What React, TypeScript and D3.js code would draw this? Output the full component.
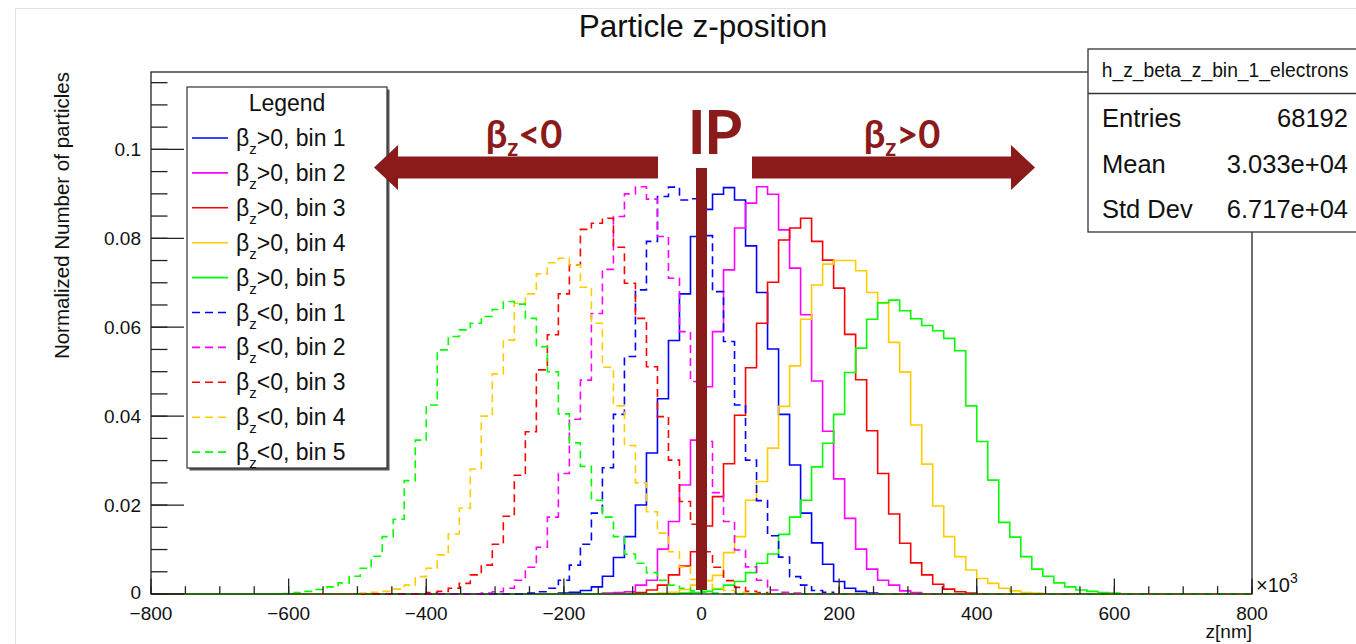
import React from 'react';
import * as d3 from 'd3';

// histogram binning (z in units of 10^3 nm)
const binLow = -800;
const binWidth = 16;
const nBins = 100;

// each series: lower edge of first non-empty bin, then bin contents
const posBin1Start = -208;
const posBin1 = [0.0002, 0.0004, 0.0008, 0.0016, 0.0040, 0.0082, 0.0129, 0.0200, 0.0317, 0.0439, 0.0570, 0.0675, 0.0804, 0.0865, 0.0899, 0.0914, 0.0886, 0.0783, 0.0678, 0.0551, 0.0404, 0.0290, 0.0182, 0.0115, 0.0067, 0.0028, 0.0013, 0.0006, 0.0002];
const posBin2Start = -144;
const posBin2 = [0.0002, 0.0003, 0.0005, 0.0020, 0.0031, 0.0101, 0.0163, 0.0245, 0.0346, 0.0466, 0.0590, 0.0729, 0.0823, 0.0879, 0.0916, 0.0899, 0.0819, 0.0733, 0.0628, 0.0479, 0.0366, 0.0259, 0.0170, 0.0101, 0.0056, 0.0031, 0.0020, 0.0007, 0.0003];
const posBin3Start = -112;
const posBin3 = [0.0001, 0.0003, 0.0009, 0.0020, 0.0043, 0.0063, 0.0095, 0.0153, 0.0219, 0.0293, 0.0402, 0.0509, 0.0609, 0.0701, 0.0796, 0.0823, 0.0845, 0.0793, 0.0751, 0.0688, 0.0584, 0.0482, 0.0367, 0.0271, 0.0180, 0.0114, 0.0070, 0.0043, 0.0022, 0.0011, 0.0005, 0.0002];
const posBin4Start = -64;
const posBin4 = [0.0002, 0.0004, 0.0010, 0.0020, 0.0030, 0.0042, 0.0093, 0.0129, 0.0211, 0.0253, 0.0328, 0.0422, 0.0513, 0.0618, 0.0695, 0.0742, 0.0750, 0.0750, 0.0727, 0.0678, 0.0654, 0.0566, 0.0499, 0.0380, 0.0292, 0.0198, 0.0129, 0.0084, 0.0054, 0.0035, 0.0024, 0.0013, 0.0007, 0.0003, 0.0002];
const posBin5Start = -32;
const posBin5 = [0.0002, 0.0003, 0.0006, 0.0011, 0.0020, 0.0028, 0.0048, 0.0069, 0.0090, 0.0134, 0.0173, 0.0211, 0.0286, 0.0339, 0.0404, 0.0498, 0.0553, 0.0618, 0.0655, 0.0661, 0.0637, 0.0619, 0.0604, 0.0592, 0.0575, 0.0547, 0.0423, 0.0343, 0.0256, 0.0161, 0.0128, 0.0084, 0.0056, 0.0040, 0.0025, 0.0016, 0.0009, 0.0006, 0.0003, 0.0002];
const negBin1Start = -256;
const negBin1 = [0.0002, 0.0005, 0.0013, 0.0031, 0.0065, 0.0112, 0.0182, 0.0284, 0.0404, 0.0534, 0.0684, 0.0793, 0.0894, 0.0915, 0.0886, 0.0889, 0.0806, 0.0680, 0.0568, 0.0425, 0.0301, 0.0210, 0.0131, 0.0083, 0.0039, 0.0020, 0.0008, 0.0004];
const negBin2Start = -320;
const negBin2 = [0.0002, 0.0005, 0.0013, 0.0031, 0.0060, 0.0105, 0.0173, 0.0271, 0.0393, 0.0481, 0.0631, 0.0730, 0.0849, 0.0900, 0.0916, 0.0888, 0.0804, 0.0710, 0.0590, 0.0478, 0.0343, 0.0228, 0.0163, 0.0099, 0.0061, 0.0031, 0.0009, 0.0004, 0.0002];
const negBin3Start = -400;
const negBin3 = [0.0003, 0.0006, 0.0013, 0.0024, 0.0043, 0.0065, 0.0112, 0.0175, 0.0267, 0.0365, 0.0504, 0.0583, 0.0675, 0.0740, 0.0820, 0.0834, 0.0845, 0.0780, 0.0699, 0.0620, 0.0511, 0.0399, 0.0301, 0.0208, 0.0157, 0.0095, 0.0060, 0.0030, 0.0015, 0.0006, 0.0003];
const negBin4Start = -496;
const negBin4 = [0.0002, 0.0004, 0.0006, 0.0011, 0.0020, 0.0039, 0.0058, 0.0088, 0.0135, 0.0193, 0.0281, 0.0400, 0.0495, 0.0571, 0.0654, 0.0675, 0.0720, 0.0745, 0.0755, 0.0740, 0.0690, 0.0609, 0.0510, 0.0423, 0.0334, 0.0250, 0.0185, 0.0137, 0.0095, 0.0061, 0.0033, 0.0022, 0.0013, 0.0008, 0.0004, 0.0002];
const negBin5Start = -608;
const negBin5 = [0.0001, 0.0003, 0.0006, 0.0010, 0.0016, 0.0025, 0.0040, 0.0058, 0.0085, 0.0129, 0.0168, 0.0255, 0.0346, 0.0425, 0.0549, 0.0579, 0.0594, 0.0609, 0.0624, 0.0640, 0.0658, 0.0652, 0.0620, 0.0556, 0.0500, 0.0405, 0.0340, 0.0287, 0.0211, 0.0173, 0.0129, 0.0090, 0.0069, 0.0048, 0.0031, 0.0020, 0.0013, 0.0007, 0.0004, 0.0002];

const legendSigns = ['>', '>', '>', '>', '>', '<', '<', '<', '<', '<'];
const legendBins = ['1', '2', '3', '4', '5', '1', '2', '3', '4', '5'];

const xTickValues = [-800, -600, -400, -200, 0, 200, 400, 600, 800];
const xTickLabels = ['\u2212800', '\u2212600', '\u2212400', '\u2212200', '0', '200', '400', '600', '800'];
const yTickValues = [0, 0.02, 0.04, 0.06, 0.08, 0.1];
const yTickLabels = ['0', '0.02', '0.04', '0.06', '0.08', '0.1'];

const statNames = ['Entries', 'Mean', 'Std Dev'];
const statValues = ['68192', '3.033e+04', '6.717e+04'];

const W = 1356;
const H = 644;
const frame = { left: 151, right: 1252, top: 72, bottom: 594 };
const yMax = 0.1174;
const FONT = '"Liberation Sans", Arial, Helvetica, sans-serif';
const DARK_RED = '#8b1a1a';

const series = [
  { start: posBin1Start, values: posBin1, color: '#0000ff', dashed: false },
  { start: posBin2Start, values: posBin2, color: '#ff00ff', dashed: false },
  { start: posBin3Start, values: posBin3, color: '#ff0000', dashed: false },
  { start: posBin4Start, values: posBin4, color: '#ffcc00', dashed: false },
  { start: posBin5Start, values: posBin5, color: '#00ff00', dashed: false },
  { start: negBin1Start, values: negBin1, color: '#0000ff', dashed: true },
  { start: negBin2Start, values: negBin2, color: '#ff00ff', dashed: true },
  { start: negBin3Start, values: negBin3, color: '#ff0000', dashed: true },
  { start: negBin4Start, values: negBin4, color: '#ffcc00', dashed: true },
  { start: negBin5Start, values: negBin5, color: '#00ff00', dashed: true },
];

const x = d3.scaleLinear().domain([-800, 800]).range([frame.left, frame.right]);
const y = d3.scaleLinear().domain([0, yMax]).range([frame.bottom, frame.top]);

const stepLine = d3.line<[number, number]>()
  .x(d => x(d[0]))
  .y(d => y(d[1]))
  .curve(d3.curveStepAfter);

function histPath(start: number, values: number[]) {
  const offset = Math.round((start - binLow) / binWidth);
  const pts: [number, number][] = d3.range(nBins).map(i => {
    const j = i - offset;
    const v = j >= 0 && j < values.length ? values[j] : 0;
    return [binLow + i * binWidth, v];
  });
  pts.push([binLow + nBins * binWidth, pts[pts.length - 1][1]]);
  return stepLine(pts) || '';
}

const BetaZ = ({ sub, dy, rest }: { sub: number; dy: number; rest: string }) => (
  <>
    <tspan>β</tspan>
    <tspan fontSize={sub} dy={dy}>z</tspan>
    <tspan dy={-dy}>{rest}</tspan>
  </>
);

export default function App() {
  const xMinor = d3.range(-800, 801, 50);
  const yMinor = d3.range(0, yMax, 0.005);
  const majorY = 33;
  const minorY = 16.5;
  const majorX = 15.5;
  const minorX = 7.8;

  const legend = { x: 187, y: 87, w: 200, h: 381 };
  const rowY0 = 138;
  const rowStep = 34.9;

  const arrowY = 167.5;

  return (
    <svg
      width={W}
      height={H}
      viewBox={`0 0 ${W} ${H}`}
      style={{ position: 'absolute', left: 0, top: 0, background: '#fff' }}
      fontFamily={FONT}
    >
      <rect x={0} y={0} width={W} height={H} fill="#fff" />
      <rect x={15.5} y={8.5} width={1400} height={700} fill="none" stroke="#e2e2e2" strokeWidth={1} />

      {/* title */}
      <text x={703} y={37} textAnchor="middle" fontSize={31.5} fill="#111">Particle z-position</text>

      {/* histograms */}
      <g fill="none" strokeWidth={1.6}>
        {series.map((s, i) => (
          <path
            key={i}
            d={histPath(s.start, s.values)}
            stroke={s.color}
            strokeDasharray={s.dashed ? '8,5' : undefined}
          />
        ))}
      </g>

      {/* frame */}
      <rect
        x={frame.left}
        y={frame.top}
        width={frame.right - frame.left}
        height={frame.bottom - frame.top}
        fill="none"
        stroke="#222"
        strokeWidth={1.3}
      />

      {/* ticks */}
      <g stroke="#222" strokeWidth={1.3}>
        {yMinor.map((v, i) => (
          <line key={'ym' + i} x1={frame.left} x2={frame.left + minorY} y1={y(v)} y2={y(v)} />
        ))}
        {yTickValues.map((v, i) => (
          <line key={'yM' + i} x1={frame.left} x2={frame.left + majorY} y1={y(v)} y2={y(v)} />
        ))}
        {xMinor.map((v, i) => (
          <line key={'xm' + i} x1={x(v)} x2={x(v)} y1={frame.bottom} y2={frame.bottom - minorX} />
        ))}
        {xTickValues.map((v, i) => (
          <line key={'xM' + i} x1={x(v)} x2={x(v)} y1={frame.bottom} y2={frame.bottom - majorX} />
        ))}
      </g>

      {/* tick labels */}
      <g fontSize={19} fill="#111">
        {yTickValues.map((v, i) => (
          <text key={'yl' + i} x={141} y={y(v) + (i === 0 ? 5 : 7)} textAnchor="end">{yTickLabels[i]}</text>
        ))}
        {xTickValues.map((v, i) => (
          <text key={'xl' + i} x={x(v)} y={620} textAnchor="middle">{xTickLabels[i]}</text>
        ))}
        <text x={1256} y={592} fontSize={20}>
          ×10<tspan fontSize={14} dy={-9}>3</tspan>
        </text>
        <text x={frame.right} y={638} textAnchor="end">z[nm]</text>
      </g>

      {/* y axis title */}
      <text
        transform={`translate(69, ${frame.top}) rotate(-90)`}
        textAnchor="end"
        fontSize={20.5}
        fill="#111"
      >
        Normalized Number of particles
      </text>

      {/* legend */}
      <rect x={legend.x + 2.5} y={legend.y + 2.5} width={legend.w} height={legend.h} fill="#555" />
      <rect x={legend.x} y={legend.y} width={legend.w} height={legend.h} fill="#fff" stroke="#333" strokeWidth={1.2} />
      <text x={legend.x + legend.w / 2} y={111} textAnchor="middle" fontSize={23} fill="#111">Legend</text>
      {series.map((s, i) => {
        const cy = rowY0 + i * rowStep;
        return (
          <g key={'lg' + i}>
            <line
              x1={192}
              x2={228}
              y1={cy}
              y2={cy}
              stroke={s.color}
              strokeWidth={1.6}
              strokeDasharray={s.dashed ? '8,5' : undefined}
            />
            <text x={236} y={cy + 8} fontSize={23} fill="#111">
              <BetaZ sub={15} dy={8} rest={`${legendSigns[i]}0, bin ${legendBins[i]}`} />
            </text>
          </g>
        );
      })}

      {/* stats box */}
      <rect x={1088} y={49} width={290} height={183} fill="#fff" stroke="#333" strokeWidth={1.3} />
      <line x1={1088} x2={1378} y1={93.5} y2={93.5} stroke="#333" strokeWidth={1.3} />
      <text x={1225} y={77} textAnchor="middle" fontSize={19.3} fill="#111">h_z_beta_z_bin_1_electrons</text>
      {statNames.map((n, i) => (
        <g key={'st' + i} fontSize={25.5} fill="#111">
          <text x={1102} y={127 + i * 45.5}>{n}</text>
          <text x={1348} y={127 + i * 45.5} textAnchor="end">{statValues[i]}</text>
        </g>
      ))}

      {/* annotations */}
      <g fill={DARK_RED}>
        <path
          d={`M374,${arrowY} L398,145 L398,${arrowY - 11} L658,${arrowY - 11} L658,${arrowY + 11} L398,${arrowY + 11} L398,190 Z`}
        />
        <path
          d={`M1035,${arrowY} L1011,145 L1011,${arrowY - 11} L752,${arrowY - 11} L752,${arrowY + 11} L1011,${arrowY + 11} L1011,190 Z`}
        />
        <rect x={x(0) - 5.5} y={168} width={11} height={422} />
        <g fontFamily="Lato, 'Open Sans', sans-serif" fontWeight={700}>
          <text x={714} y={154} textAnchor="middle" fontSize={62} letterSpacing={-2}>IP</text>
          <text x={524} y={148} textAnchor="middle" fontSize={38}>
            <BetaZ sub={24} dy={8} rest="<0" />
          </text>
          <text x={902} y={148} textAnchor="middle" fontSize={38}>
            <BetaZ sub={24} dy={8} rest=">0" />
          </text>
        </g>
      </g>
    </svg>
  );
}
